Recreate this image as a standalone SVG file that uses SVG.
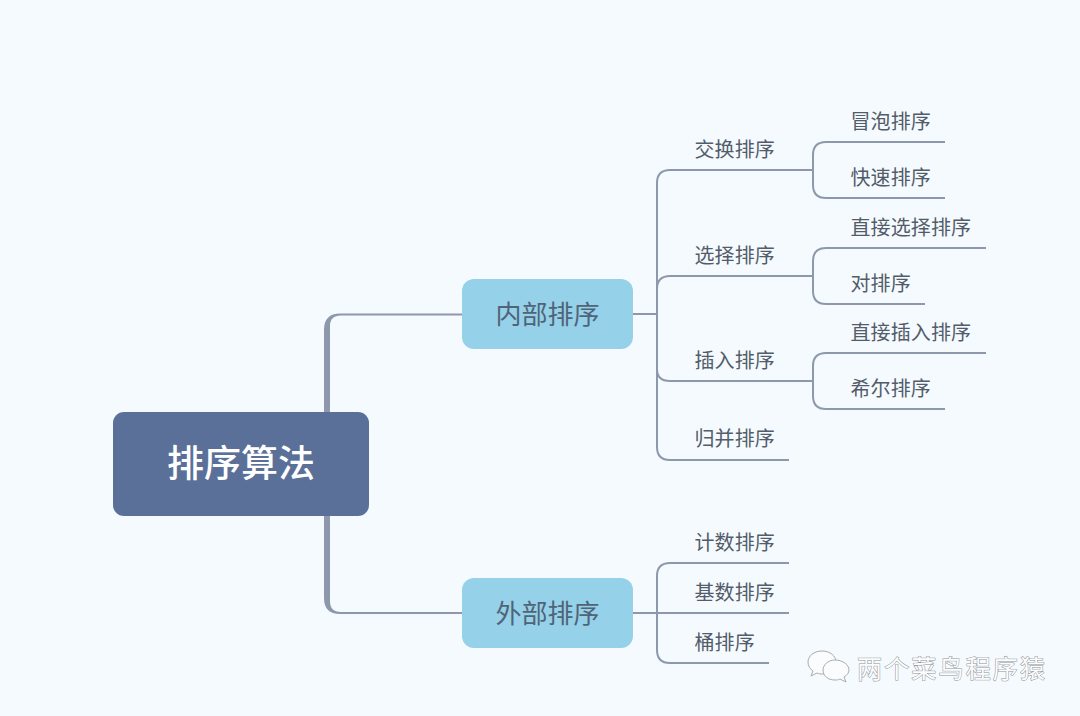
<svg xmlns="http://www.w3.org/2000/svg" width="1080" height="716" viewBox="0 0 1080 716">
<defs><style>
.c{fill:none;stroke:#8d98ac;stroke-width:2}
.t{fill:#8d98ac;stroke:none}
text{font-family:"Noto Sans CJK SC","Noto Sans",sans-serif}
.l{font-size:20px;fill:#525c6a;letter-spacing:0.1px}
.m{font-size:26px;fill:#4f6478;text-anchor:middle}
.r{font-size:37px;fill:#fff;font-weight:500;text-anchor:middle}
.w{font-size:25px;fill:#fbfcfd;stroke:#8f9398;stroke-width:1px;paint-order:stroke}
.b{fill:#fbfcfd;stroke:#a8acb0;stroke-width:1}
</style></defs>
<rect width="1080" height="716" fill="#f5fafe"/>
<g id="connectors">
<path class="t" d="M324 413V330Q324 313.500 340 313.500H462V315.500H341Q330 315.500 330 326V413Z"/>
<path class="t" d="M324 515V598Q324 614 340 614H462V612H341Q330 612 330 601V515Z"/>
<path class="c" d="M633 314H657"/>
<path class="c" d="M789 170H670Q657 170 657 183V447Q657 460 670 460H789"/>
<path class="c" d="M657 289Q657 276 670 276H813"/>
<path class="c" d="M657 369Q657 381 670 381H813"/>
<path class="c" d="M789 170H813"/>
<path class="c" d="M945 142H826Q813 142 813 155V185Q813 198 826 198H945"/>
<path class="c" d="M986 248H826Q813 248 813 261V291Q813 304 826 304H925"/>
<path class="c" d="M986 353H826Q813 353 813 366V396Q813 409 826 409H945"/>
<path class="c" d="M633 613H657"/>
<path class="c" d="M789 563H670Q657 563 657 576V650Q657 663 670 663H769"/>
<path class="c" d="M657 613H789"/>
</g>
<g id="root"><rect x="113" y="412" width="256" height="104" rx="11" fill="#5a7099"/><text class="r" x="241" y="477">排序算法</text></g>
<g id="n-internal"><rect x="462" y="279" width="171" height="70" rx="12" fill="#95d1e8"/><text class="m" x="547.500" y="324">内部排序</text></g>
<g id="n-external"><rect x="462" y="578" width="171" height="70" rx="12" fill="#95d1e8"/><text class="m" x="547.500" y="623">外部排序</text></g>
<g id="n1"><text class="l" x="694.500" y="157">交换排序</text></g>
<g id="n2"><text class="l" x="850.500" y="129">冒泡排序</text></g>
<g id="n3"><text class="l" x="850.500" y="185">快速排序</text></g>
<g id="n4"><text class="l" x="694.500" y="263">选择排序</text></g>
<g id="n5"><text class="l" x="850.500" y="235">直接选择排序</text></g>
<g id="n6"><text class="l" x="850.500" y="291">对排序</text></g>
<g id="n7"><text class="l" x="694.500" y="368">插入排序</text></g>
<g id="n8"><text class="l" x="850.500" y="340">直接插入排序</text></g>
<g id="n9"><text class="l" x="850.500" y="396">希尔排序</text></g>
<g id="n10"><text class="l" x="694.500" y="446">归并排序</text></g>
<g id="n11"><text class="l" x="694.500" y="550">计数排序</text></g>
<g id="n12"><text class="l" x="694.500" y="600">基数排序</text></g>
<g id="n13"><text class="l" x="694.500" y="650">桶排序</text></g>
<g id="watermark">
<path class="b" d="M822 651C814 651 808 656 808 662C808 666 810 669 813 671L811 676L817 673C819 674 821 674 823 674C829 674 836 670 836 662C836 656 830 651 822 651Z"/>
<path class="b" d="M835 660C828 660 823 665 823 670C823 676 828 680 835 680C837 680 838 680 840 679L846 682L844 677C847 675 849 673 849 670C849 665 843 660 835 660Z"/>
<text class="w" x="857" y="678" textLength="188">两个菜鸟程序猿</text>
</g>
</svg>
